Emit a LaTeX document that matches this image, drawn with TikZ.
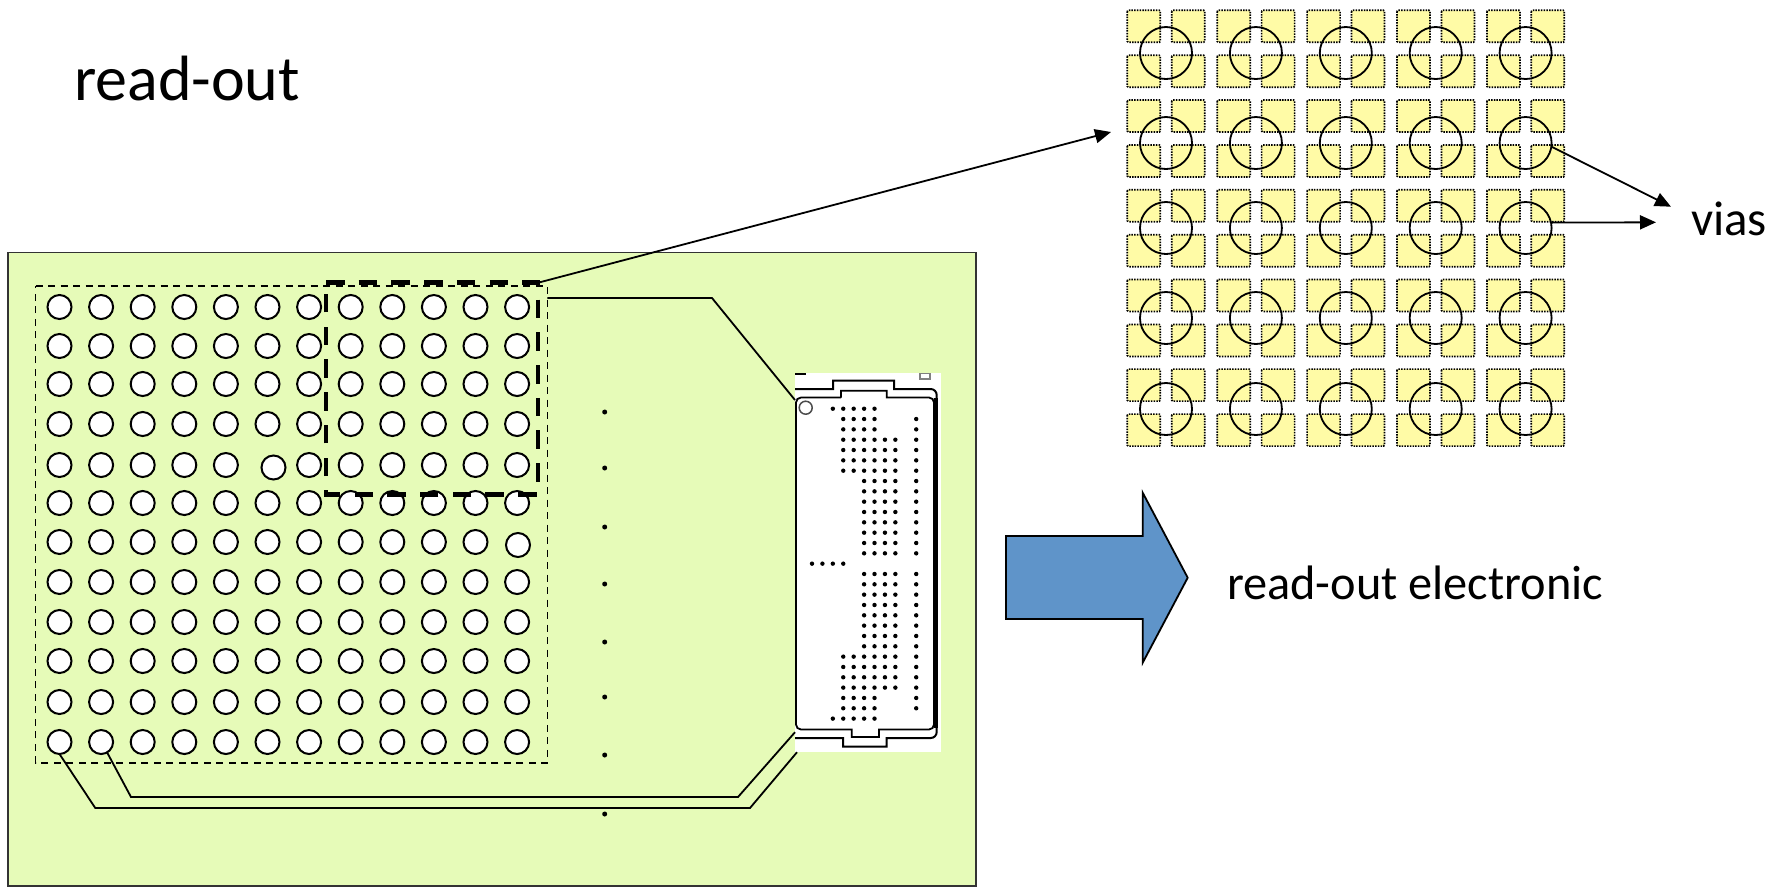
\documentclass[tikz,border=0pt]{standalone}
\usepackage{fontspec}
\setmainfont{Carlito}
\usetikzlibrary{arrows.meta}
\definecolor{pcbgreen}{HTML}{E6FBB8}
\definecolor{padyellow}{HTML}{FFFBA6}
\definecolor{arrowblue}{HTML}{5F94C9}
\tikzset{
  >={Triangle[length=1.6mm, width=1.4mm]},
  every picture/.style={line cap=butt, line join=miter},
  hole/.style={circle, draw, fill=white, line width=0.2mm, minimum size=2.4mm, inner sep=0pt, outer sep=0pt},
  viaring/.style={circle, draw, line width=0.18mm, minimum size=5.2mm, inner sep=0pt, outer sep=0pt},
  padbox/.style={draw, fill=padyellow, line width=0.17mm, dash pattern=on 0.15mm off 0.12mm, rounded corners=0.1mm},
  arraybox/.style={anchor=north west, inner sep=0pt, outer sep=0pt},
  arrayline/.style={dash pattern=on 0.7mm off 0.55mm, line width=0.16mm},
  blockline/.style={dash pattern=on 1.85mm off 1.42mm, line width=0.45mm},
  trace/.style={line width=0.18mm},
  textlabel/.style={anchor=base west, inner sep=0pt, outer sep=0pt},
}

\begin{document}
\begin{tikzpicture}[x=0.01cm, y=-0.01cm]
  \useasboundingbox (0,0) rectangle (1781,887);
  % board
  \draw[fill=pcbgreen, line width=0.17mm, draw=black!80] (8,252.5) rectangle (976,886);
  \node[arraybox, minimum width=51.15mm, minimum height=47.7mm] (array) at (35.5,286) {};
  \draw[arrayline] (array.north west) -- (array.north east) -- (array.south east) -- (array.south west) -- cycle;
  % via holes of the read-out plane
  \foreach \r/\y in {1/307,2/346,3/384,4/424,5/465,6/503,7/542,8/582,9/622,10/661,11/702,12/742} {
    \foreach \c in {1,...,12} {
      \ifnum\numexpr\r*100+\c\relax=506 \else
        \ifnum\numexpr\r*100+\c\relax=712 \else
          \node[hole] (hole-\r-\c) at ({59.5+41.6*(\c-1)},\y) {};
        \fi
      \fi
    }
  }
  \node[hole] (hole-5-6) at (273.5,467.5) {};
  \node[hole] (hole-7-12) at (518,545) {};
  % dots down to the next rows
  \foreach \y in {412,468,527,584,642,697,755,814}
    \fill (604.7,\y) circle (0.25mm);
  % connector
  \node[fill=white, minimum width=14.6mm, minimum height=37.9mm, inner sep=0pt, outer sep=0pt, anchor=north west] (chip) at (795,373) {};
  \draw[line width=0.2mm] (795,389) -- (833,389) -- (833,380.7) -- (894,380.7) -- (894,389) [rounded corners=0.6mm] -- (936.7,389) -- (936.7,738) [sharp corners] -- (886.7,738) -- (886.7,746.7) -- (843,746.7) -- (843,738) -- (795,738);
  \draw[line width=0.18mm] (841,397.5) -- (841,390.7) -- (886.7,390.7) -- (886.7,397.5) [rounded corners=0.5mm] -- (934,397.5) -- (934,729.5) [sharp corners] -- (879,729.5) -- (879,737) -- (851.7,737) -- (851.7,729.5) [rounded corners=0.5mm] -- (796,729.5) -- (796,397.5) [sharp corners] -- (841,397.5);
  \draw[line width=0.35mm] (936,398) -- (936,728);
  \draw[line width=0.15mm, draw=black!70] (805.7,407.7) circle (0.65mm);
  \draw[line width=0.2mm] (795,374) -- (806,374);
  \draw[line width=0.15mm, draw=black!50] (920,373.5) rectangle (930,379);
  % ball map of the connector, row by row
  \foreach \i/\cols in {0/{2,3,4,5,6}, 1/{3,4,5,6,10}, 2/{3,4,5,6,10}, 3/{3,4,5,6,7,8,10}, 4/{3,4,5,6,7,8,10}, 5/{3,4,5,6,7,8,10}, 6/{3,4,5,6,7,8,10}, 7/{5,6,7,8,10}, 8/{5,6,7,8,10}, 9/{5,6,7,8,10}, 10/{5,6,7,8,10}, 11/{5,6,7,8,10}, 12/{5,6,7,8,10}, 13/{5,6,7,8,10}, 14/{5,6,7,8,10}, 15/{0,1,2,3}, 16/{5,6,7,8,10}, 17/{5,6,7,8,10}, 18/{5,6,7,8,10}, 19/{5,6,7,8,10}, 20/{5,6,7,8,10}, 21/{5,6,7,8,10}, 22/{5,6,7,8,10}, 23/{5,6,7,8,10}, 24/{3,4,5,6,7,8,10}, 25/{3,4,5,6,7,8,10}, 26/{3,4,5,6,7,8,10}, 27/{3,4,5,6,7,8,10}, 28/{3,4,5,6,10}, 29/{3,4,5,6,10}, 30/{2,3,4,5,6}} {
    \foreach \j in \cols
      \fill ({812+10.42*\j},{408.7+10.33*\i}) circle (0.22mm);
  }
  % traces
  \coordinate (bendtop) at (712,298);
  \coordinate (benda) at (95.3,808);
  \coordinate (bendb) at (750,808);
  \coordinate (bendc) at (131,797);
  \coordinate (bendd) at (738,797);
  \draw[trace] (array.north east) ++(0,12) -- (bendtop) -- ([yshift=-0.27cm]chip.north west);
  \draw[trace] (hole-12-1.south) -- (benda) -- (bendb) -- ([xshift=0.02cm]chip.south west);
  \draw[trace] (hole-12-2.-60) -- (bendc) -- (bendd) -- ([yshift=0.2cm]chip.south west);
  % zoomed block
  \node[arraybox, minimum width=21.2mm, minimum height=21.16mm] (block) at (326,282.7) {};
  \draw[blockline] (block.north west) -- (block.north east) -- (block.south east) -- (block.south west) -- cycle;
  % enlarged pads
  \foreach \i in {0,...,4} {
    \foreach \j in {0,...,4} {
      \foreach \dx/\dy in {0/0,44.4/0,0/45,44.4/45}
        \draw[padbox] ({1127.3+89.9*\i+\dx},{10.3+89.7*\j+\dy}) rectangle ++(33,32);
    }
  }
  \foreach \r/\y in {1/53,2/143,3/228,4/318,5/409} {
    \foreach \c in {1,...,5}
      \node[viaring] (via-\r-\c) at ({1166+89.9*(\c-1)},\y) {};
  }
  % labels
  \node[textlabel, font=\fontsize{18.2}{18}\selectfont] (title) at (74,100) {read-out};
  \node[textlabel, font=\fontsize{13.9}{14}\selectfont] (vias) at (1691,235) {vias};
  \node[textlabel, font=\fontsize{13.75}{14}\selectfont] (electronic) at (1227,599) {read-out electronic};
  % arrows
  \coordinate (zoomend) at (1111,132);
  \coordinate (viasa) at (1671,206.7);
  \coordinate (viasb) at (1656,222.3);
  \draw[->, trace] (block.north east) -- (zoomend);
  \draw[->, trace] (via-2-5.-8) -- (viasa);
  \draw[->, trace] (via-3-5.12) -- (viasb);
  % block arrow
  \draw[fill=arrowblue, line width=0.18mm] (1006,536) -- (1142.7,536) -- (1142.7,492.7) -- (1187.7,577.7) -- (1142.7,662.7) -- (1142.7,619) -- (1006,619) -- cycle;
\end{tikzpicture}
\end{document}
